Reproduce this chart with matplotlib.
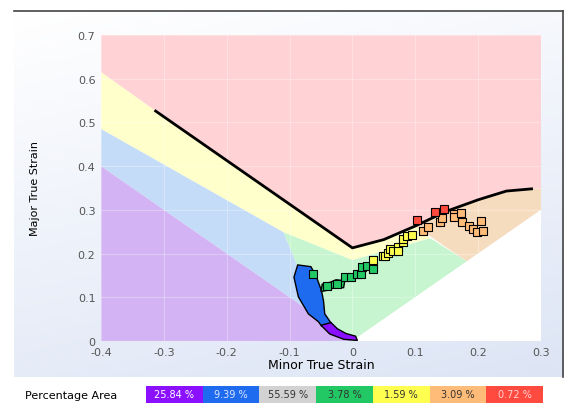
import matplotlib
matplotlib.use("Agg")
import matplotlib.pyplot as plt
import numpy as np
from matplotlib.patches import Polygon, Rectangle
from matplotlib.colors import LinearSegmentedColormap

# forming limit curve (minor, major)
flc_x = [-0.4, -0.313, 0.0, 0.05, 0.1, 0.15, 0.2, 0.245, 0.285, 0.3]
flc_y = [0.615, 0.526, 0.213, 0.232, 0.263, 0.297, 0.323, 0.343, 0.348, 0.349]

# zone boundaries
yellow_low = [(-0.4, 0.485), (-0.11, 0.249), (0.0, 0.185), (0.124, 0.235)]
green_left = [(-0.11, 0.249), (-0.09, 0.18), (-0.06, 0.10), (-0.03, 0.04), (0.0, 0.0)]

# strain points
blue_blob = [(-0.087, 0.174), (-0.093, 0.146), (-0.086, 0.101), (-0.07, 0.062),
             (-0.054, 0.044), (-0.049, 0.034), (-0.034, 0.041), (-0.044, 0.062),
             (-0.046, 0.092), (-0.049, 0.114), (-0.057, 0.146), (-0.066, 0.17)]
purple_blob = [(-0.05, 0.036), (-0.036, 0.016), (-0.014, 0.004), (0.008, 0.001),
               (0.005, 0.011), (-0.01, 0.017), (-0.024, 0.028), (-0.034, 0.042)]
green_arm = [(-0.05, 0.113), (-0.04, 0.116), (-0.03, 0.121), (-0.014, 0.122),
             (-0.012, 0.138), (-0.026, 0.14), (-0.036, 0.134), (-0.048, 0.13)]
green_x = [-0.062, -0.04, -0.024, -0.011, -0.003, 0.008, 0.013, 0.016, 0.024, 0.032]
green_y = [0.153, 0.126, 0.13, 0.146, 0.146, 0.153, 0.153, 0.169, 0.172, 0.165]
yellow_x = [0.032, 0.049, 0.052, 0.056, 0.06, 0.064, 0.072, 0.073, 0.08, 0.081, 0.087, 0.095]
yellow_y = [0.185, 0.194, 0.195, 0.201, 0.21, 0.206, 0.215, 0.206, 0.226, 0.233, 0.24, 0.242]
orange_x = [0.113, 0.121, 0.14, 0.143, 0.161, 0.161, 0.172, 0.175, 0.185, 0.192, 0.199, 0.204, 0.207]
orange_y = [0.252, 0.261, 0.272, 0.281, 0.29, 0.284, 0.293, 0.272, 0.263, 0.256, 0.249, 0.275, 0.252]
red_x = [0.103, 0.132, 0.145]
red_y = [0.277, 0.295, 0.302]

pct_labels = ["25.84 %", "9.39 %", "55.59 %", "3.78 %", "1.59 %", "3.09 %", "0.72 %"]
pct_colors = ["#8a10ff", "#1f6bf0", "#d2d2d2", "#22c864", "#ffff50", "#ffbb78", "#ff4a40"]
pct_text = ["white", "#dde6ff", "#333333", "#333333", "#333333", "#333333", "#ffd0d0"]

fig = plt.figure(figsize=(5.66, 4.10), dpi=100)

# panel background with soft gradient (white top-left -> pale blue bottom-right)
bg = fig.add_axes([0.025, 0.078, 0.97, 0.893], zorder=0)
gy, gx = np.mgrid[0:1:100j, 0:1:100j]
g = 0.75 * gy + 0.25 * gx
bg.imshow(g, cmap=LinearSegmentedColormap.from_list("p", ["#ffffff", "#dde5f5"]),
          aspect="auto", extent=[0, 1, 0, 1], origin="upper")
bg.set_xticks([]); bg.set_yticks([])
for s in ["left", "bottom"]:
    bg.spines[s].set_visible(False)
for s in ["top", "right"]:
    bg.spines[s].set_color("#444444")
    bg.spines[s].set_linewidth(1.2)

ax = fig.add_axes([0.1784, 0.1659, 0.7774, 0.7463], zorder=1)
ax.set_xlim(-0.4, 0.3)
ax.set_ylim(0, 0.7)

flc = list(zip(flc_x, flc_y))
pink = [(-0.4, 0.7), (0.3, 0.7)] + flc[::-1]
yellow = flc[:5] + [(0.124, 0.235)] + yellow_low[:3][::-1]
orange = [(0.10, 0.263)] + flc[5:] + [(0.3, 0.3), (0.182, 0.182)]
green = [(-0.11, 0.249), (0.0, 0.185), (0.124, 0.235), (0.182, 0.182), (0.0, 0.0)] + green_left[1:-1][::-1]
lblue = [(-0.4, 0.485)] + green_left + [(-0.4, 0.4)]
purple = [(-0.4, 0.4), (0.0, 0.0), (-0.4, 0.0)]
white = [(0.0, 0.0), (0.3, 0.0), (0.3, 0.3)]

for poly, col in [(pink, "#ffd2d6"), (yellow, "#ffffcc"), (orange, "#f6dcbf"),
                  (green, "#c6f5cf"), (lblue, "#c4dcf8"), (purple, "#d3b3f3"),
                  (white, "#ffffff")]:
    ax.add_patch(Polygon(poly, closed=True, facecolor=col, edgecolor="none", zorder=1))

ax.grid(True, color="#ffffff", alpha=0.3, linewidth=0.8, zorder=2)
ax.set_axisbelow(False)

ax.plot(flc_x[1:-1], flc_y[1:-1], color="black", linewidth=2, zorder=3)

for poly, col in [(blue_blob, "#1f6bf0"), (purple_blob, "#8a10ff"), (green_arm, "#22c864")]:
    ax.add_patch(Polygon(poly, closed=True, facecolor=col, edgecolor="black",
                         linewidth=1.0, zorder=4))

for xs, ys, col in [(green_x, green_y, "#22c864"), (yellow_x, yellow_y, "#ffff50"),
                    (orange_x, orange_y, "#ffbb78"), (red_x, red_y, "#ff4a40")]:
    ax.scatter(xs, ys, s=27, marker="s", c=col, edgecolors="black", linewidths=0.8, zorder=5)

ax.set_xticks(np.arange(-0.4, 0.31, 0.1))
ax.set_xticklabels(["-0.4", "-0.3", "-0.2", "-0.1", "0", "0.1", "0.2", "0.3"])
ax.set_yticks(np.arange(0, 0.71, 0.1))
ax.set_yticklabels(["0", "0.1", "0.2", "0.3", "0.4", "0.5", "0.6", "0.7"])
ax.tick_params(length=0, labelsize=8, labelcolor="#555555", pad=4)
for s in ax.spines.values():
    s.set_visible(False)
ax.set_xlabel("Minor True Strain", fontsize=9, labelpad=1)
ax.set_ylabel("Major True Strain", fontsize=8, labelpad=27)

# percentage legend
fig.text(25 / 566, 1 - 396 / 410, "Percentage Area", fontsize=8, va="center", ha="left")
bx0, bw, by, bh = 146, 56.7, 387, 17
for i, (lab, col, tc) in enumerate(zip(pct_labels, pct_colors, pct_text)):
    x0 = bx0 + i * bw
    fig.patches.append(Rectangle((x0 / 566, 1 - (by + bh) / 410), bw / 566, bh / 410,
                                 transform=fig.transFigure, facecolor=col,
                                 edgecolor="none", figure=fig))
    fig.text((x0 + bw / 2) / 566, 1 - (by + bh / 2) / 410, lab, fontsize=7,
             ha="center", va="center", color=tc)

fig.savefig("out.png", dpi=100)
